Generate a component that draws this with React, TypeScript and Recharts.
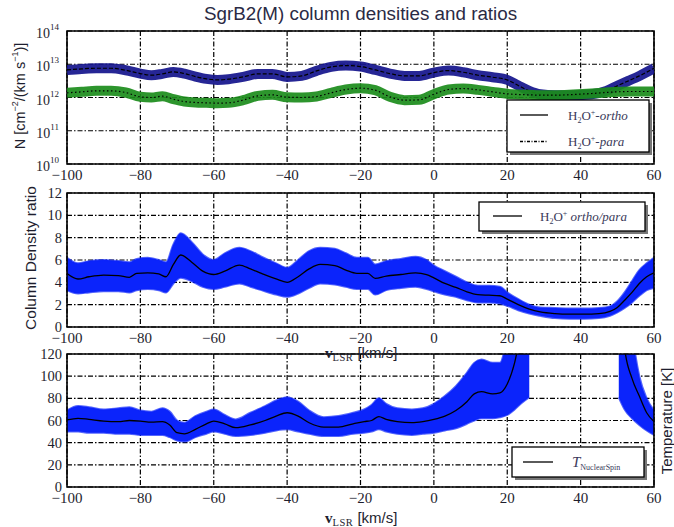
import React from "react";
import { ComposedChart, Line, Area, XAxis, YAxis, CartesianGrid, ReferenceArea } from "recharts";

// ---------- data ----------
const xTicks = [-100, -80, -60, -40, -20, 0, 20, 40, 60];
const nTicks = [1e10, 1e11, 1e12, 1e13, 1e14];
const ratioTicks = [0, 2, 4, 6, 8, 10, 12];
const tempTicks = [0, 20, 40, 60, 80, 100, 120];

// top panel: log10 column densities
const vTop = [-100, -96, -92, -88, -84, -80, -77, -74, -71, -68, -65, -62, -59, -56, -52, -48, -44, -40, -36, -32, -28, -24, -20, -16, -12, -8, -4, 0, 4, 8, 12, 16, 20, 23, 26, 29, 33, 38, 43, 47, 50, 53, 56, 60];
const orthoLog = [12.83, 12.86, 12.88, 12.88, 12.82, 12.72, 12.67, 12.71, 12.77, 12.72, 12.63, 12.56, 12.53, 12.55, 12.62, 12.71, 12.71, 12.62, 12.65, 12.8, 12.92, 12.96, 12.93, 12.83, 12.72, 12.65, 12.65, 12.75, 12.81, 12.76, 12.67, 12.61, 12.53, 12.36, 12.2, 12.1, 12.07, 12.07, 12.1, 12.2, 12.35, 12.5, 12.65, 12.88];
const paraLog = [12.14, 12.17, 12.2, 12.2, 12.15, 12.02, 12.0, 12.04, 11.95, 11.88, 11.85, 11.84, 11.83, 11.84, 11.92, 12.05, 12.08, 12.01, 12.0, 12.03, 12.14, 12.24, 12.28, 12.22, 12.02, 11.92, 11.93, 12.1, 12.24, 12.27, 12.23, 12.17, 12.11, 12.09, 12.08, 12.07, 12.07, 12.09, 12.12, 12.15, 12.17, 12.18, 12.18, 12.18];

// middle panel: ortho/para ratio
const vRatio = [-100, -97, -94, -90, -86, -83, -81, -78, -75, -73, -71, -69, -66, -63, -60, -57, -53, -50, -47, -43, -40, -37, -34, -31, -27, -24, -21, -18, -16, -13, -9, -5, -2, 0, 3, 6, 9, 12, 15, 18, 20, 23, 26, 29, 33, 37, 41, 45, 48, 50, 52, 54, 56, 58, 60];
const ratio = [4.8, 4.3, 4.5, 4.65, 4.6, 4.45, 4.8, 4.85, 4.75, 4.5, 5.6, 6.45, 5.8, 5.0, 4.7, 5.0, 5.55, 5.2, 4.8, 4.3, 4.0, 4.5, 5.2, 5.6, 5.5, 5.1, 4.8, 4.8, 4.35, 4.55, 4.7, 4.85, 4.7, 4.4, 3.9, 3.55, 3.15, 2.9, 2.85, 2.8, 2.5, 2.0, 1.6, 1.35, 1.2, 1.15, 1.15, 1.2, 1.4, 1.75, 2.4, 3.1, 3.9, 4.5, 4.85];
const ratioLo = [3.3, 3.0, 3.1, 3.2, 3.2, 3.1, 3.3, 3.4, 3.3, 3.1, 3.9, 4.4, 4.1, 3.6, 3.4, 3.6, 3.9, 3.6, 3.3, 2.9, 2.7, 3.0, 3.5, 3.9, 3.8, 3.6, 3.4, 3.4, 2.9, 3.3, 3.5, 3.6, 3.4, 3.2, 2.9, 2.7, 2.4, 2.2, 2.2, 2.1, 1.9, 1.5, 1.2, 1.0, 0.8, 0.75, 0.75, 0.8, 1.0, 1.3, 1.7, 2.2, 2.8, 3.3, 3.5];
const ratioHi = [6.2, 5.7, 5.9, 6.0, 5.9, 5.8, 6.1, 6.2, 6.0, 5.8, 7.4, 8.4, 7.6, 6.5, 6.0, 6.6, 7.1, 6.8, 6.3, 5.7, 5.3, 6.0, 6.8, 7.1, 7.0, 6.6, 6.2, 6.2, 5.6, 5.9, 6.1, 6.3, 6.0, 5.5, 5.0, 4.5, 4.0, 3.7, 3.7, 3.6, 3.1, 2.5, 2.0, 1.75, 1.7, 1.65, 1.65, 1.7, 1.85, 2.3, 3.1, 4.1, 5.1, 5.7, 6.2];

// bottom panel: nuclear-spin temperature (null = no solution)
const vTemp = [-100, -97, -94, -90, -86, -83, -80, -77, -74, -72, -70, -68, -65, -62, -60, -57, -54, -50, -46, -43, -40, -37, -34, -30, -26, -22, -19, -17, -15, -13, -10, -6, -3, 0, 3, 6, 9, 11, 13, 16, 18, 20, 22, 24, 26, 27, 49, 50.4, 52, 54, 56, 58, 60];
const temp = [60.5, 62, 61, 59.5, 59, 60, 59.5, 58.5, 59, 56, 49, 48, 52, 57, 59.5, 57, 53.5, 56, 60, 64, 67, 64, 58, 54, 54, 57, 59, 60, 63.5, 61, 59, 58, 59, 61, 64, 69, 77, 84, 86, 84, 85, 93, 112, 145, 175, null, null, 185, 125, 98, 82, 67, 59];
const tempLo = [50, 50, 49, 49, 48, 48, 47, 47, 47, 45, 42, 41, 45, 48, 50, 48, 46, 47, 49, 51, 52, 50, 48, 46, 46, 48, 49, 50, 52, 50, 48, 47, 48, 49, 51, 53, 57, 60, 62, 62, 63, 65, 70, 76, 81, null, null, 81, 70, 62, 56, 51, 47];
const tempHi = [69, 73, 72, 70, 71, 72, 69, 68, 71, 68, 60, 58, 64, 68, 70, 65, 61, 67, 73, 78, 81, 77, 69, 63, 64, 67, 70, 74, 80, 75, 71, 70, 71, 75, 82, 91, 103, 112, 115, 112, 112, 135, 170, 220, 280, null, null, 300, 200, 140, 100, 80, 69];

// ---------- tables built from the arrays ----------
const topData = vTop.map((v, i) => ({ v, ortho: Math.pow(10, orthoLog[i]), para: Math.pow(10, paraLog[i]) }));
const ratioData = vRatio.map((v, i) => ({ v, ratio: ratio[i], band: [ratioLo[i], ratioHi[i]] }));
const tempData = vTemp.map((v, i) => ({
  v,
  temp: temp[i],
  band: tempLo[i] == null ? null : [tempLo[i], tempHi[i]],
}));
const minorTicks: number[] = [];
for (let k = 10; k < 14; k++) for (let m = 2; m <= 9; m++) minorTicks.push(m * Math.pow(10, k));

// ---------- styles ----------
const SERIF = "'Liberation Serif', 'DejaVu Serif', serif";
const SANS = "'Liberation Sans', Arial, sans-serif";
const TXT = "#1e1e2e";
const GRID_DASH = "5 2 1.5 2";
const BLUE = "#0b24fb";
const W = 674;
const H = 527;

const fmtNum = (n: number) => (n < 0 ? "\u2212" + Math.abs(n) : String(n));

const XTick = (props: any) => {
  const { x, y, payload } = props;
  return (
    <text x={x} y={y + 16} textAnchor="middle" fontFamily={SERIF} fontSize={15} fill={TXT}>
      {fmtNum(payload.value)}
    </text>
  );
};

const YTick = (props: any) => {
  const { x, y, payload } = props;
  return (
    <text x={x - 5} y={y + 5} textAnchor="end" fontFamily={SERIF} fontSize={14.5} fill={TXT}>
      {fmtNum(payload.value)}
    </text>
  );
};

const LogTick = (props: any) => {
  const { x, y, payload } = props;
  const e = Math.round(Math.log10(payload.value));
  return (
    <text x={x - 8} y={y + 7} textAnchor="end" fontFamily={SERIF} fontSize={14} fill={TXT}>
      <tspan>10</tspan>
      <tspan dy={-8} fontSize={9}>{e}</tspan>
    </text>
  );
};

const xAxisCommon = {
  dataKey: "v",
  type: "number" as const,
  domain: [-100, 60],
  ticks: xTicks,
  allowDataOverflow: true,
  tickLine: false,
  axisLine: false,
  tickSize: 0,
  tickMargin: 0,
  interval: 0 as const,
  height: 20,
  tick: <XTick />,
};

const yAxisCommon = {
  width: 67,
  axisLine: false,
  tickLine: false,
  tickSize: 0,
  tickMargin: 0,
  interval: 0 as const,
  allowDataOverflow: true,
};

const gridProps = { stroke: "#000", strokeDasharray: GRID_DASH, strokeWidth: 1.2 };
const abs: React.CSSProperties = { position: "absolute", left: 0, top: 0 };

export default function App() {
  return (
    <div style={{ position: "fixed", left: 0, top: 0, width: W, height: H, background: "#fff", overflow: "hidden" }}>
      {/* top panel */}
      <div style={abs}>
        <ComposedChart width={W} height={H} data={topData} margin={{ top: 31, right: 20, bottom: H - 164 - 20, left: 0 }}>
          <CartesianGrid {...gridProps} />
          <XAxis {...xAxisCommon} />
          <YAxis {...yAxisCommon} scale="log" domain={[1e10, 1e14]} ticks={nTicks} tick={<LogTick />} />
          <YAxis yAxisId="mL" orientation="left" mirror scale="log" domain={[1e10, 1e14]} ticks={minorTicks} interval={0} tick={false} axisLine={false} tickLine={{ stroke: "#000", strokeWidth: 1 }} tickSize={3} allowDataOverflow />
          <YAxis yAxisId="mR" orientation="right" mirror scale="log" domain={[1e10, 1e14]} ticks={minorTicks} interval={0} tick={false} axisLine={false} tickLine={{ stroke: "#000", strokeWidth: 1 }} tickSize={3} allowDataOverflow />
          <Line dataKey="ortho" type="monotone" stroke="#14148c" strokeWidth={10} strokeOpacity={0.92} dot={false} isAnimationActive={false} />
          <Line dataKey="ortho" type="monotone" stroke="#000" strokeWidth={1.2} strokeDasharray="4 2" dot={false} isAnimationActive={false} />
          <Line dataKey="para" type="monotone" stroke="#1b8c1b" strokeWidth={10} strokeOpacity={0.92} dot={false} isAnimationActive={false} />
          <Line dataKey="para" type="monotone" stroke="#000" strokeWidth={1.2} strokeDasharray="1.5 2.5" dot={false} isAnimationActive={false} />
          <ReferenceArea x1={-100} x2={60} y1={1e10} y2={1e14} fill="none" stroke="#000" strokeWidth={1.6} ifOverflow="visible" />
        </ComposedChart>
      </div>

      {/* middle panel */}
      <div style={abs}>
        <ComposedChart width={W} height={H} data={ratioData} margin={{ top: 193, right: 20, bottom: H - 327 - 20, left: 0 }}>
          <CartesianGrid {...gridProps} />
          <XAxis {...xAxisCommon} />
          <YAxis {...yAxisCommon} domain={[0, 12]} ticks={ratioTicks} tick={<YTick />} />
          <Area dataKey="band" type="monotone" fill={BLUE} fillOpacity={1} stroke={BLUE} strokeWidth={2} strokeOpacity={0.7} dot={false} activeDot={false} isAnimationActive={false} />
          <Line dataKey="ratio" type="monotone" stroke="#000" strokeWidth={1.3} dot={false} isAnimationActive={false} />
          <ReferenceArea x1={-100} x2={60} y1={0} y2={12} fill="none" stroke="#000" strokeWidth={1.6} ifOverflow="visible" />
        </ComposedChart>
      </div>

      {/* bottom panel */}
      <div style={abs}>
        <ComposedChart width={W} height={H} data={tempData} margin={{ top: 354, right: 20, bottom: H - 487 - 20, left: 0 }}>
          <CartesianGrid {...gridProps} />
          <XAxis {...xAxisCommon} />
          <YAxis {...yAxisCommon} domain={[0, 120]} ticks={tempTicks} tick={<YTick />} />
          <Area dataKey="band" type="monotone" fill={BLUE} fillOpacity={1} stroke={BLUE} strokeWidth={2} strokeOpacity={0.7} dot={false} activeDot={false} connectNulls={false} isAnimationActive={false} />
          <Line dataKey="temp" type="monotone" stroke="#000" strokeWidth={1.3} dot={false} connectNulls={false} isAnimationActive={false} />
          <ReferenceArea x1={-100} x2={60} y1={0} y2={120} fill="none" stroke="#000" strokeWidth={1.6} ifOverflow="visible" />
        </ComposedChart>
      </div>

      {/* text, labels and legends */}
      <svg width={W} height={H} style={{ ...abs, pointerEvents: "none" }}>
        <text x={360.5} y={20} textAnchor="middle" fontFamily={SANS} fontSize={18.8} fill="#2a2a44">
          SgrB2(M) column densities and ratios
        </text>

        {/* y labels */}
        <text transform="translate(20,96) rotate(-90)" textAnchor="middle" dominantBaseline="central" fontFamily={SANS} fontSize={14.5} fill={TXT}>
          <tspan>N [cm</tspan>
          <tspan dy={-5} fontSize={9}>{"\u22122"}</tspan>
          <tspan dy={5}>/(km s</tspan>
          <tspan dy={-5} fontSize={9}>{"\u22121"}</tspan>
          <tspan dy={5}>)]</tspan>
        </text>
        <text transform="translate(30,258) rotate(-90)" textAnchor="middle" dominantBaseline="central" fontFamily={SANS} fontSize={15.5} fill={TXT}>
          Column Density ratio
        </text>
        <text transform="translate(666,421) rotate(-90)" textAnchor="middle" dominantBaseline="central" fontFamily={SANS} fontSize={15} fill={TXT}>
          Temperature [K]
        </text>

        {/* x labels */}
        {[358, 523].map((yy) => (
          <text key={yy} x={325} y={yy} fontFamily={SANS} fontSize={15} fill={TXT}>
            <tspan fontFamily={SERIF} fontWeight="bold">v</tspan>
            <tspan dy={3} fontFamily={SERIF} fontSize={10.5} letterSpacing={0.5}>LSR</tspan>
            <tspan dy={-3}> [km/s]</tspan>
          </text>
        ))}

        {/* top legend */}
        <rect x={510} y={103} width={142} height={52} fill="#777" />
        <rect x={507} y={100} width={142} height={52} fill="#fff" stroke="#000" strokeWidth={1.3} />
        <line x1={520} x2={548} y1={115} y2={115} stroke="#000" strokeWidth={1.3} />
        <line x1={520} x2={548} y1={141.5} y2={141.5} stroke="#000" strokeWidth={1.3} strokeDasharray="3 1.5 1 1.5" />
        {[{ y: 119.5, s: "ortho" }, { y: 146, s: "para" }].map((e) => (
          <text key={e.s} x={568} y={e.y} fontFamily={SERIF} fontSize={13} fill="#3a3a5a">
            <tspan>H</tspan>
            <tspan dy={3} fontSize={8}>2</tspan>
            <tspan dy={-3}>O</tspan>
            <tspan dy={-5} fontSize={8}>+</tspan>
            <tspan dy={5}>-</tspan>
            <tspan fontStyle="italic">{e.s}</tspan>
          </text>
        ))}

        {/* middle legend */}
        <rect x={482} y={205} width={166} height={29} fill="#777" />
        <rect x={479} y={202} width={166} height={29} fill="#fff" stroke="#000" strokeWidth={1.3} />
        <line x1={493} x2={522} y1={216} y2={216} stroke="#000" strokeWidth={1.3} />
        <text x={540} y={220.5} fontFamily={SERIF} fontSize={13} fill="#3a3a5a">
          <tspan>H</tspan>
          <tspan dy={3} fontSize={8}>2</tspan>
          <tspan dy={-3}>O</tspan>
          <tspan dy={-5} fontSize={8}>+</tspan>
          <tspan dy={5}> </tspan>
          <tspan fontStyle="italic">ortho/para</tspan>
        </text>

        {/* bottom legend */}
        <rect x={515} y={450} width={132} height={30} fill="#777" />
        <rect x={512} y={447} width={132} height={30} fill="#fff" stroke="#000" strokeWidth={1.3} />
        <line x1={523} x2={553} y1={462} y2={462} stroke="#000" strokeWidth={1.3} />
        <text x={572} y={467} fontFamily={SERIF} fontSize={15} fill="#3a3a5a">
          <tspan fontStyle="italic">T</tspan>
          <tspan dy={3} fontSize={8}>NuclearSpin</tspan>
        </text>
      </svg>
    </div>
  );
}
